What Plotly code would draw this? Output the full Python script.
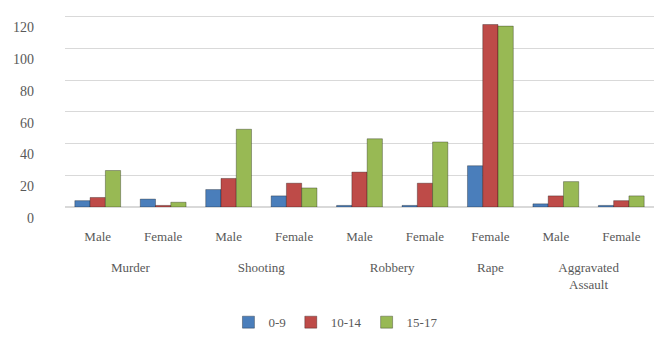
import plotly.graph_objects as go

crimes = ["Murder", "Murder", "Shooting", "Shooting", "Robbery", "Robbery",
          "Rape", "Aggravated<br>Assault", "Aggravated<br>Assault"]
sexes = ["Male", "Female", "Male", "Female", "Male", "Female", "Female", "Male", "Female"]

age_0_9 = [4, 5, 11, 7, 1, 1, 26, 2, 1]
age_10_14 = [6, 1, 18, 15, 22, 15, 115, 7, 4]
age_15_17 = [23, 3, 49, 12, 43, 41, 114, 16, 7]

series = [("0-9", age_0_9, "#4A7EBB"), ("10-14", age_10_14, "#BE4B48"), ("15-17", age_15_17, "#98B954")]

group_labels = ["<br><br>" + c for c in crimes]

fig = go.Figure()
for name, vals, col in series:
    fig.add_trace(go.Bar(
        x=[group_labels, sexes], y=vals, name=name,
        marker=dict(color=col, line=dict(color="rgba(0,0,0,0.3)", width=1)),
    ))

font_family = "Liberation Serif, DejaVu Serif, serif"
fig.update_layout(
    width=658, height=341,
    margin=dict(l=65, r=4, t=15, b=131),
    paper_bgcolor="white", plot_bgcolor="white",
    barmode="group", bargap=0.3, bargroupgap=0.0,
    font=dict(family=font_family, size=13, color="#595959"),
    legend=dict(orientation="h", x=0.46, xanchor="center", y=-0.6, yanchor="middle",
                font=dict(size=13), itemwidth=30, tracegroupgap=0),
    xaxis=dict(showdividers=False, showline=False, ticks="", ticklabelstandoff=20,
               tickfont=dict(size=13)),
    yaxis=dict(range=[0, 121], dtick=20, showgrid=True, gridcolor="#D9D9D9", gridwidth=1,
               zeroline=True, zerolinecolor="#D9D9D9", tickfont=dict(size=14), ticks="",
               ticklabelshift=11, ticklabelstandoff=30),
)
fig.write_html("out.html")
